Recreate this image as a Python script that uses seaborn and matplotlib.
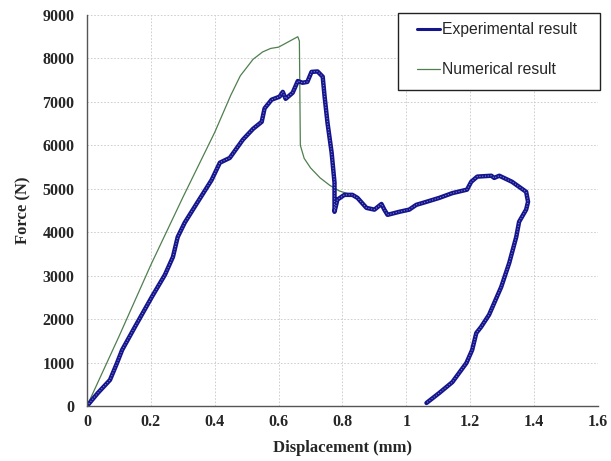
import numpy as np
import pandas as pd
import matplotlib
matplotlib.use("Agg")
import matplotlib.pyplot as plt
import matplotlib.patches as mpatches
import seaborn as sns

# ===== data =====
exp_disp = [0.0, 0.034, 0.072, 0.094, 0.11, 0.15, 0.203, 0.244, 0.269, 0.284,
            0.306, 0.347, 0.39, 0.416, 0.447, 0.488, 0.52, 0.547, 0.556, 0.578,
            0.603, 0.613, 0.622, 0.644, 0.66, 0.675, 0.69, 0.703, 0.722, 0.738,
            0.744, 0.753, 0.766, 0.775, 0.775, 0.784, 0.806, 0.831, 0.847, 0.875,
            0.9, 0.922, 0.931, 0.941, 0.978, 1.009, 1.031, 1.063, 1.103, 1.144,
            1.19, 1.203, 1.222, 1.266, 1.275, 1.291, 1.331, 1.375, 1.381, 1.375,
            1.353, 1.344, 1.322, 1.297, 1.259, 1.234, 1.219, 1.206, 1.188, 1.144,
            1.103, 1.063]
exp_force = [0, 300, 600, 990, 1290, 1820, 2510, 3020, 3430, 3890,
             4220, 4700, 5200, 5600, 5710, 6130, 6380, 6540, 6850, 7050,
             7120, 7230, 7070, 7210, 7480, 7440, 7460, 7690, 7700, 7580,
             7120, 6520, 5830, 5140, 4470, 4750, 4860, 4860, 4790, 4560,
             4520, 4650, 4520, 4400, 4470, 4520, 4630, 4700, 4790, 4900,
             4980, 5160, 5280, 5300, 5250, 5300, 5160, 4930, 4700, 4520,
             4240, 3890, 3290, 2740, 2100, 1820, 1680, 1290, 990, 550,
             300, 70]

num_disp = [0.0, 0.1, 0.2, 0.3, 0.4, 0.45, 0.48, 0.52, 0.55, 0.575, 0.6, 0.63,
            0.66, 0.665, 0.668, 0.68, 0.70, 0.73, 0.76, 0.79, 0.82]
num_force = [0, 1600, 3250, 4800, 6300, 7150, 7600, 7980, 8150, 8230, 8260,
             8380, 8500, 8400, 6000, 5700, 5480, 5250, 5080, 4950, 4880]

x_ticks = [0, 0.2, 0.4, 0.6, 0.8, 1, 1.2, 1.4, 1.6]
x_tick_labels = ["0", "0.2", "0.4", "0.6", "0.8", "1", "1.2", "1.4", "1.6"]
y_ticks = list(range(0, 9001, 1000))

df_exp = pd.DataFrame({"disp": exp_disp, "force": exp_force})
df_num = pd.DataFrame({"disp": num_disp, "force": num_force})

sns.set_style("white")
plt.rcParams["font.family"] = ["Liberation Serif", "DejaVu Serif"]

fig = plt.figure(figsize=(6.11, 4.61), dpi=100)
ax = fig.add_axes([0.1424, 0.1193, 0.8363, 0.8482])

sns.lineplot(data=df_num, x="disp", y="force", sort=False, estimator=None,
             color="#4f7f4f", linewidth=0.9, ax=ax, label="Numerical result")
sns.lineplot(data=df_exp, x="disp", y="force", sort=False, estimator=None,
             color="#14148c", linewidth=3.2, ax=ax, label="Experimental result")
# light dotted texture on top of the thick line
ax.plot(exp_disp, exp_force, color="#8080d0", linewidth=0.8, linestyle=(0, (1, 1.5)))

ax.set_xlim(0, 1.6)
ax.set_ylim(0, 9000)
ax.set_xticks(x_ticks)
ax.set_xticklabels(x_tick_labels)
ax.set_yticks(y_ticks)
ax.grid(True, color="#c8c8c8", linestyle=(0, (2, 2)), linewidth=0.6)
for s in ["top", "right"]:
    ax.spines[s].set_visible(False)
for s in ["left", "bottom"]:
    ax.spines[s].set_color("#555555")
    ax.spines[s].set_linewidth(1.0)
ax.tick_params(axis="both", direction="out", length=4, width=0.8,
               color="#555555", labelsize=11.5, pad=5)
ax.tick_params(axis="x", pad=2)
for lab in ax.get_xticklabels() + ax.get_yticklabels():
    lab.set_fontweight("bold")

ax.set_xlabel("Displacement (mm)", fontsize=12, fontweight="bold", labelpad=7)
ax.set_ylabel("Force (N)", fontsize=12, fontweight="bold", labelpad=8)

# legend: frame drawn separately so the padding can match
box = mpatches.Rectangle((0.6086, 0.808), 1.004 - 0.6086, 1.005 - 0.808,
                         transform=ax.transAxes, clip_on=False,
                         facecolor="white", edgecolor="#222222", linewidth=1.0,
                         zorder=4)
ax.add_patch(box)
handles, labels = ax.get_legend_handles_labels()
leg = ax.legend([handles[1], handles[0]], [labels[1], labels[0]],
                loc="upper left", bbox_to_anchor=(0.6458, 0.982),
                frameon=False, prop={"family": "Liberation Sans", "size": 11.3},
                handlelength=1.46, handletextpad=0.12, labelspacing=1.62,
                borderpad=0, borderaxespad=0)
leg.set_zorder(5)
leg.legend_handles[0].set_linewidth(2.2)

fig.savefig("out.png", dpi=100)
